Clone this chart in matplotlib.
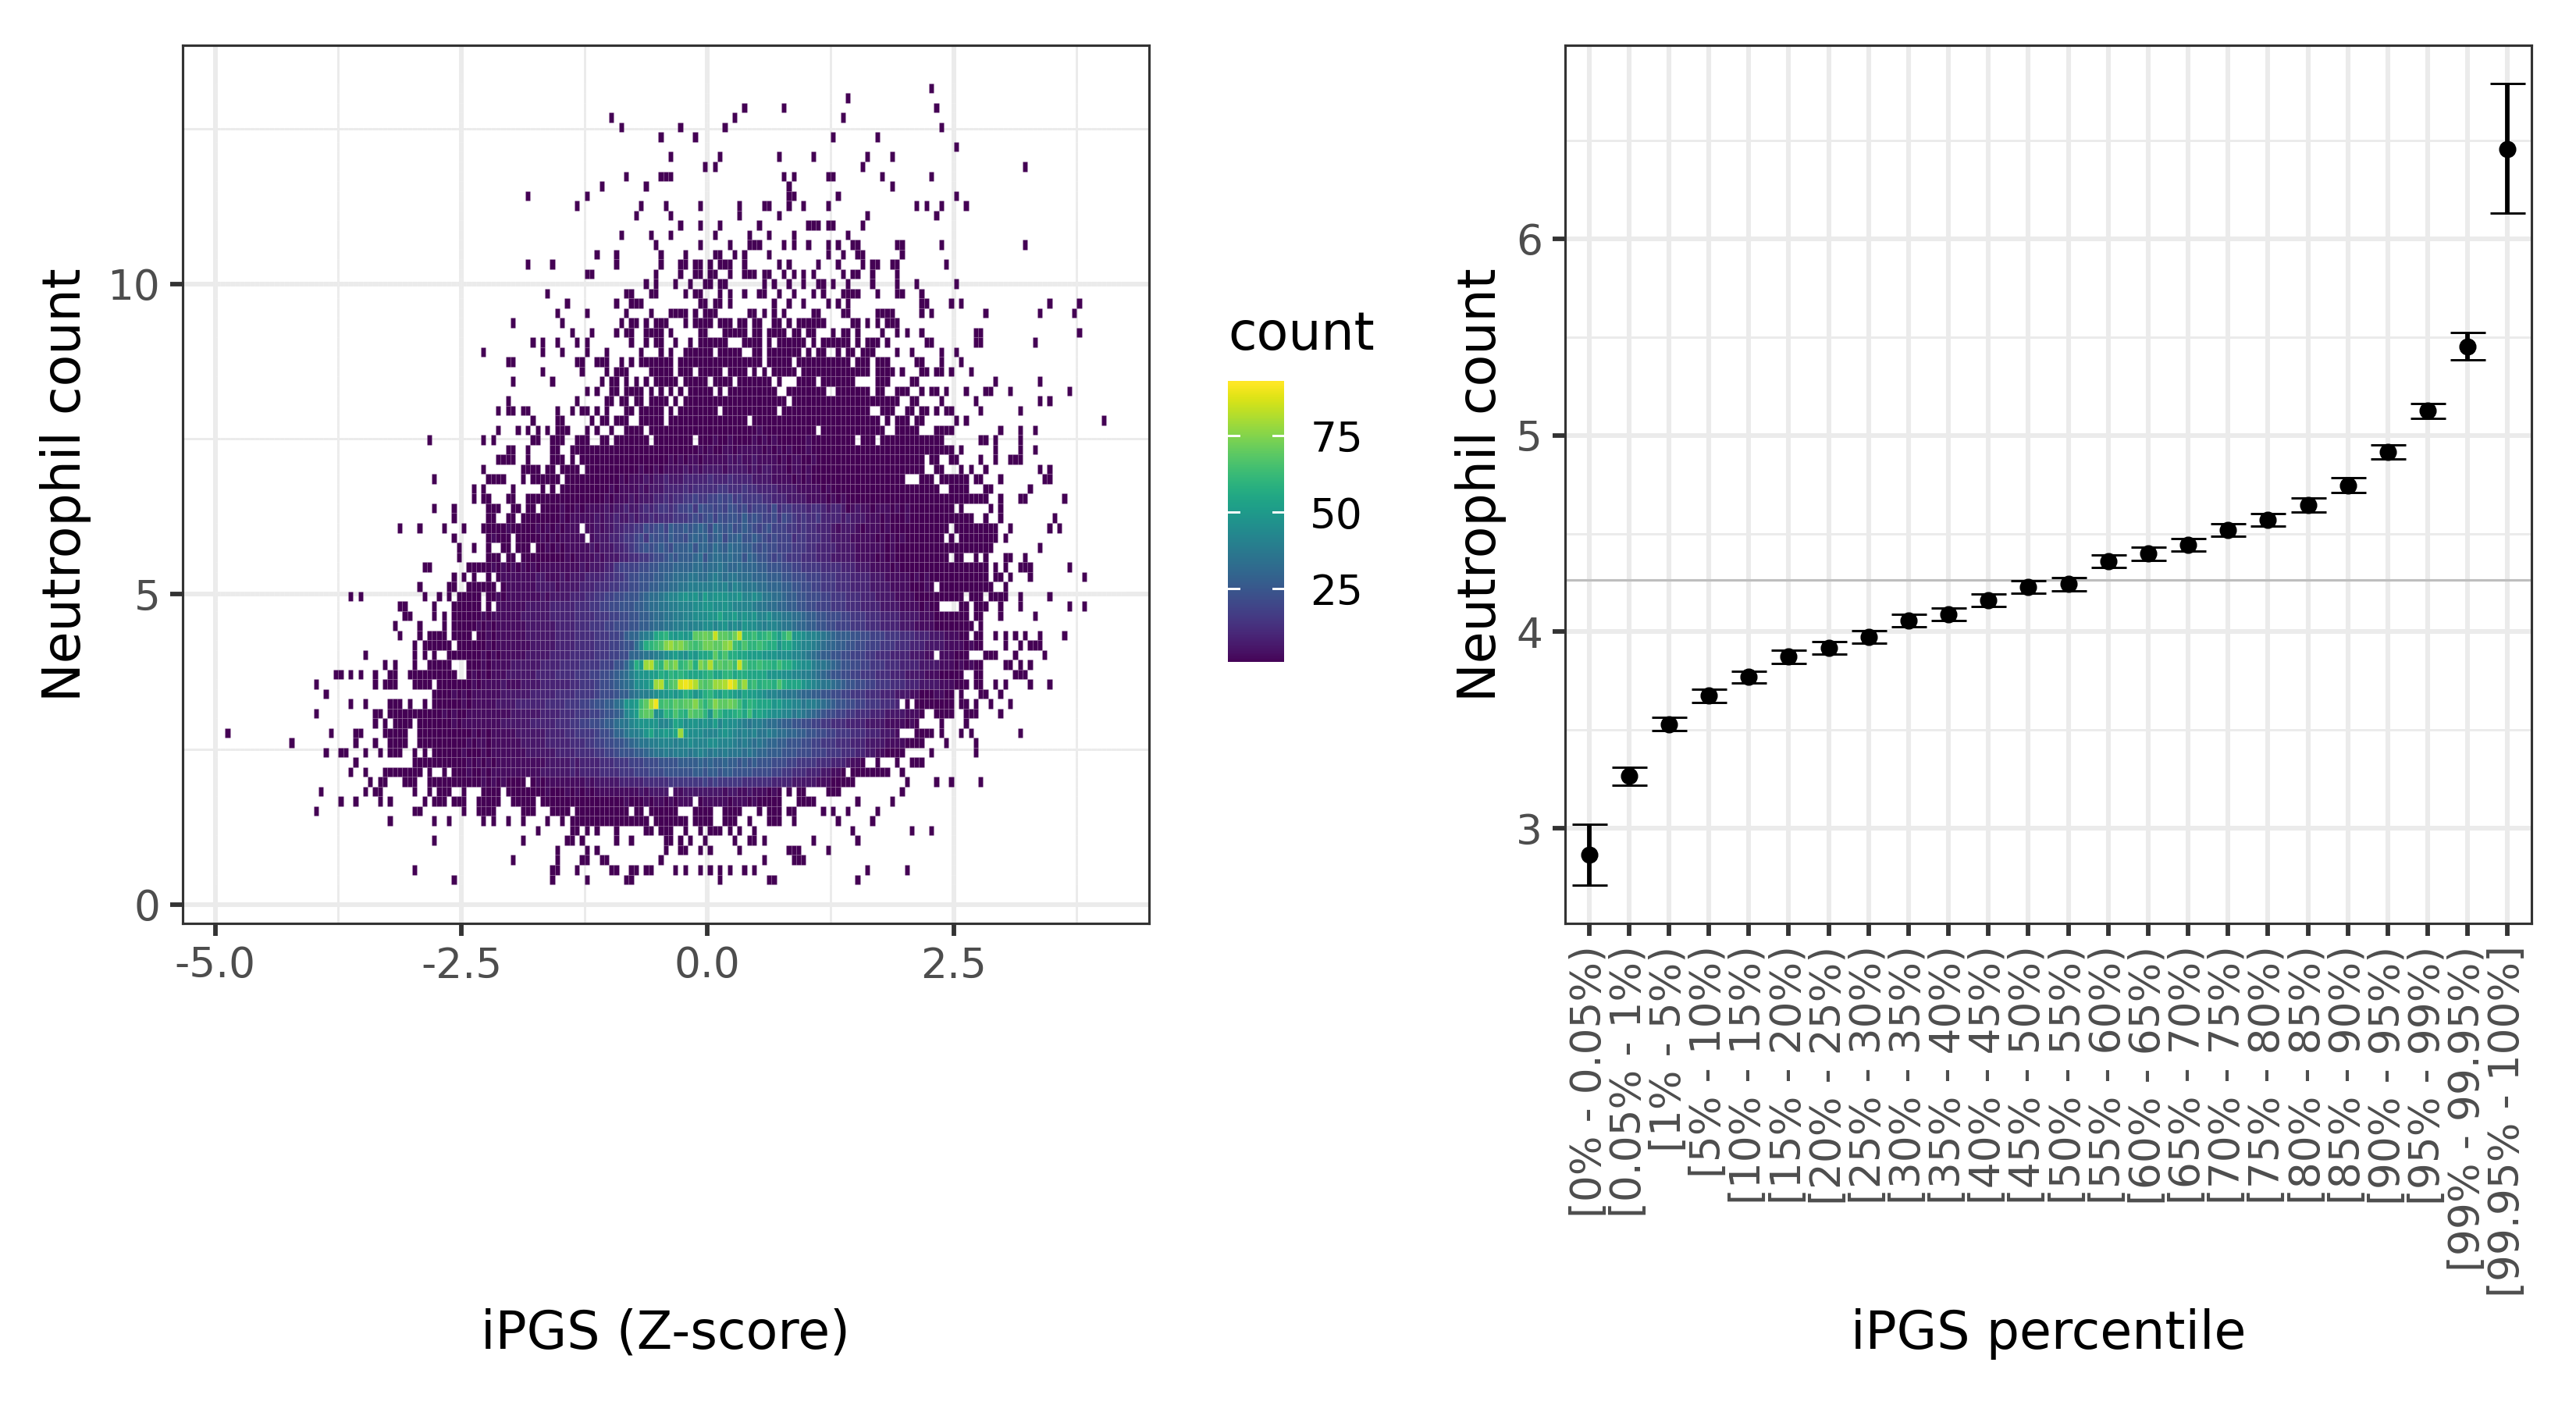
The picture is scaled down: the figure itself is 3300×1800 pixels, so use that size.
import matplotlib
matplotlib.use("Agg")
import matplotlib.pyplot as plt
import numpy as np

plt.rcParams["font.family"] = "DejaVu Sans"
plt.rcParams["axes.unicode_minus"] = False

# right panel: mean neutrophil count per iPGS percentile bin
PERCENTILE_BINS = [
    "[0% - 0.05%)", "[0.05% - 1%)", "[1% - 5%)", "[5% - 10%)", "[10% - 15%)",
    "[15% - 20%)", "[20% - 25%)", "[25% - 30%)", "[30% - 35%)", "[35% - 40%)",
    "[40% - 45%)", "[45% - 50%)", "[50% - 55%)", "[55% - 60%)", "[60% - 65%)",
    "[65% - 70%)", "[70% - 75%)", "[75% - 80%)", "[80% - 85%)", "[85% - 90%)",
    "[90% - 95%)", "[95% - 99%)", "[99% - 99.95%)", "[99.95% - 100%]",
]
MEANS = [2.866, 3.265, 3.53, 3.675, 3.77, 3.873, 3.917, 3.973, 4.059, 4.09, 4.16, 4.227,
         4.243, 4.36, 4.397, 4.444, 4.517, 4.57, 4.645, 4.745, 4.917, 5.125, 5.45, 6.457]
CI_LOW = [2.71, 3.22, 3.496, 3.64, 3.74, 3.84, 3.885, 3.94, 4.027, 4.058, 4.128, 4.195,
          4.21, 4.328, 4.365, 4.412, 4.485, 4.538, 4.61, 4.707, 4.88, 5.088, 5.383, 6.132]
CI_HIGH = [3.022, 3.31, 3.565, 3.708, 3.80, 3.905, 3.95, 4.005, 4.09, 4.122, 4.192, 4.26,
           4.275, 4.392, 4.43, 4.476, 4.55, 4.602, 4.68, 4.783, 4.953, 5.162, 5.524, 6.79]
POPULATION_MEAN = 4.263

# left panel: 2d histogram cells, rows counted from the top.
# lone cells (count about 1) as column numbers per row
HEAT_FRINGE = {
    0: [45], 1: [28], 2: [7, 15, 46], 3: [-20, 5, 27], 4: [-18, -6, 3, 47],
    5: [-10, -3, 25, 34], 6: [50], 7: [-8, 2, 14, 21, 32, 37], 8: [-1, 1, 31, 64],
    9: [-17, -10, -9, -8, 15, 17, 24, 25, 35, 45], 10: [-22, -13, 16, 37],
    11: [-37, -25, 16, 17, 26, 50],
    12: [-27, -14, -9, -2, 6, 11, 12, 16, 19, 24, 42, 44, 47, 52],
    13: [-15, -8, 6, 14, 32, 46], 14: [-6, -2, 2, 10, 20, 21, 22, 24, 25, 31],
    15: [-18, -12, -8, 1, 8, 12, 17, 28],
    16: [-11, -2, 4, 8, 9, 10, 15, 17, 20, 24, 26, 29, 30, 38, 39, 47, 64],
    17: [-23, -19, -10, -5, 1, 2, 5, 7, 12, 24, 27, 30, 31, 39],
    18: [-37, -32, -19, -10, -6, -5, -3, -2, 0, 2, 3, 4, 7, 14, 16, 22, 26, 31, 33, 34, 37, 38, 48],
    19: [-25, -24, -11, -6, -3, -2, 0, 1, 4, 7, 8, 9, 11, 12, 15, 17, 19, 21, 27, 29, 30, 33, 38],
    20: [-13, -11, -7, -4, -1, 0, 2, 3, 11, 13, 16, 19, 22, 23, 25, 28, 33, 38, 42, 50],
    21: [-33, -17, -16, -12, -11, -5, -3, -2, 2, 4, 7, 10, 11, 14, 17, 21, 23, 27, 28, 29, 30, 34, 38, 39, 43],
    22: [-29, -19, -16, -15, -14, -2, -1, 1, 2, 4, 13, 16, 19, 24, 26, 28, 43, 44, 49, 51, 69, 75],
    23: [-31, -25, -17, -12, -8, -7, -6, -5, -3, -1, 0, 1, 8, 9, 11, 13, 15, 21, 22, 27, 28, 34, 35, 36, 37, 43, 45, 56, 67, 74],
    24: [-40, -30, -18, -16, -15, -13, -11, -10, -9, -5, -3, -2, -1, 0, 2, 3, 4, 6, 7, 9, 10, 13, 14, 16, 18, 19, 20, 21, 22, 23, 29, 30, 32, 34, 36, 37, 38],
    25: [-28, -24, -19, -17, -16, -13, -12, -11, -10, -8, -2, -1, 3, 4, 5, 6, 7, 9, 10, 12, 13, 14, 15, 17, 18, 20, 21, 25, 27, 28, 30, 35, 38, 40, 43, 54, 55, 75],
    26: [-36, -34, -31, -27, -25, -16, -13, -11, -10, -7, -4, -2, -1, 0, 1, 2, 3, 7, 8, 9, 10, 12, 14, 15, 16, 17, 18, 19, 21, 23, 24, 25, 26, 27, 28, 30, 32, 33, 34, 36, 44, 45, 54, 55, 66],
    27: [-46, -34, -30, -25, -21, -14, -10, -8, -5, -4, -3, -2, -1, 0, 2, 3, 4, 5, 6, 9, 10, 12, 13, 14, 15, 16, 17, 18, 20, 22, 23, 26, 28, 29, 31, 32, 33, 38, 41, 47, 50],
    28: [-41, -40, -27, -26, -23, -22, -21, -18, -16, 42, 43, 47, 51],
    29: [-34, -26, -21, -19, -18, -17, 39, 43, 44, 46, 47, 49, 53],
    30: [-40, -32, -22, -20, -19, -17, -15, 41, 42, 58, 67],
    31: [-25, -23, -20, -19, -17, -16, -15, 38, 39, 40, 43, 45, 46, 48, 52, 56, 57, 61, 73],
    32: [-41, -27, -21, -20, -18, -17, -15, 41, 42, 47, 54, 67, 69],
    33: [-43, -41, -40, -38, -37, -31, -28, -26, -25, -23, -21, -17, -16, 40, 41, 43, 44, 46, 48, 49, 55, 63],
    34: [-36, -31, -30, -24, -22, -21, -19, -18, -17, 36, 38, 39, 40, 42, 43, 50, 52, 80],
    35: [-43, -39, -37, -35, -33, -31, -30, -29, -25, -23, -20, -17, -16, -15, 38, 39, 40, 41, 42, 46, 47, 48, 49, 59, 63, 66],
    36: [-57, -46, -44, -36, -35, -32, -31, -30, -27, -26, -25, -22, -21, -19, -18, -17, -16, -15, 55, 56, 58, 63],
    37: [-41, -40, -37, -32, -31, -28, -27, -26, -25, -24, -23, 45, 46, 47, 48, 49, 51, 58, 63, 66],
    38: [-43, -42, -41, -40, -37, -32, -31, -30, -28, -26, -25, -24, 42, 43, 45, 46, 49, 50, 55, 58, 61, 62, 63],
    39: [-46, -38, -37, -36, -35, -33, -32, -30, -29, -28, -27, -25, -24, -23, 46, 47, 51, 53, 56, 67, 69],
    40: [-56, -45, -44, -43, -42, -38, -36, -35, 43, 44, 45, 47, 48, 49, 50, 51, 52, 54, 55, 59, 68, 69],
    41: [-48, -46, -40, -34, -32, 49, 50, 51, 52, 56, 57, 65],
    42: [-48, -46, -45, -41, -40, -37, -36, -35, -34, -33, 54, 55, 56, 59, 63, 64, 72],
    43: [-56, -52, -45, -44, -43, -40, -39, -37, -36, 47, 48, 49, 51, 57, 59],
    44: [-52, -45, -44, -41, -40, -38, -37, -36, -35, -34, -33, -32, -31, 56, 59, 70],
    45: [-63, -59, -54, -50, 61, 69, 71],
    46: [-52, 60],
    47: [-51, -48, -45, -42, -41, -39, -38, -37, 67],
    48: [-51, -45, -44, -43, -41, -40, -38, -37, -36, -35, -34, -33, -32, -31, 50, 51, 54, 56, 60, 61, 64],
    49: [-58, -57, 58, 60, 63, 64, 65, 73],
    50: [-52, -50, -48, -45, 58, 59, 61, 65, 76],
    51: [-59, -53, -52, -49, -48, -47, -46, -45, -44, -42, 60],
    52: [-73, -71, -58, -55, -53, -51, -50, -49, -48, -47, 57, 58, 59, 60, 63, 69],
    53: [-63, -62, -56, -52, -51, -50, -49, -48, -47, -45, 51, 52, 54, 55, 56, 59, 63, 73, 76],
    54: [-62, -61, -56, -54, 54, 55, 59, 66],
    55: [-64, -59, -54, 55],
    56: [-63, -59, -57, -56, -55, -54, -52, -51, -50, -49, 54, 55, 58, 60, 62, 64, 67, 72],
    57: [-60, -58, -57, -56, -55, -54, -53, -51, -50, -49, -48, 60, 63, 65, 66, 67],
    58: [-70, -60, -58, -56, -53, -52, -51, 56, 57, 58, 62, 68],
    59: [-66, -64, -60, -57, -56, -55, -54, -53, 60, 61, 63, 65],
    60: [-76, -75, -73, -71, -68, -65, -64, -61, -60, -59, -58, -57, -56, -55, -54, -53, -52, 54, 55, 62, 63, 64],
    61: [-80, -68, -66, -65, -64, -60, -59, -58, -57, 54, 55, 58, 60, 65, 69],
    62: [-78, 51, 55, 56, 59],
    63: [-73, -70, -65, -64, -63, -61, -58, 40, 42, 43, 44, 45, 46, 47, 48, 49, 51, 52, 54, 57, 61],
    64: [-80, -68, -67, -65, -64, -63, -62, 46, 47, 48, 49, 52, 53, 54, 59],
    65: [-68, -66, -64, -63, -62, -61, 47, 52],
    66: [-98, -77, -72, -71, -66, -65, -64, -63, -62, -59, -58, -57, -56, -55, -54, 42, 43, 44, 45, 47, 51, 53, 63],
    67: [-85, -72, -68, -65, -64, -63, -62, -59, -58, -57, 48, 54],
    68: [-78, -75, -74, -70, -67, -65, -64, -63, -60, -58, -56, 37, 38, 39, 45, 54],
    69: [-72, -60, -59, -58, -57, -56, -55, 34, 38, 41, 42, 43],
    70: [-73, -70, -66, -65, -64, -63, -62, -61, -60, -59, -57, -54, 29, 30, 31, 32, 33, 34, 35, 36, 39],
    71: [-69, -67, -66, -62, -61, -60, -57, -56, -55, -54, -53, -52, 25, 26, 27, 28, 29, 40, 46, 49, 55],
    72: [-79, -70, -68, -67, -60, -57, -55, -54, -53, -50, -46, -45, -44, -43, 16, 18, 19, 24, 25, 26, 39],
    73: [-75, -72, -67, -65, -58, -56, -55, -54, -52, -51, -50, -47, -46, -45, -44, -43, -40, -39, -38, -37, -36, 18, 19, 20, 21, 30, 37],
    74: [-80, -60, -59, -50, -47, -46, -45, -44, -38, -37, -36, -32, -31, -30, -29, -27, -26, -25, -24, -23, -22, -21, -20, -19, -18, -17, -15, -14, -12, -11, -10, -9, -8, -7, -3, -2, -1, 0, 3, 4, 5, 6, 10, 12, 13, 14, 16, 17, 23, 25, 28, 34],
    75: [-65, -56, -53, -46, -44, -41, -38, -33, -30, -28, -27, -26, -25, -24, -23, -22, -21, -20, -19, -18, -17, -16, -15, -14, -13, -11, -10, -9, -8, -7, -6, -5, -3, -2, -1, 0, 3, 4, 5, 8, 12, 13, 14, 17, 26, 33],
    76: [-35, -28, -27, -25, -23, -19, -13, -12, -10, -9, -8, -5, -2, 0, 1, 2, 4, 6, 9, 29, 41, 45],
    77: [-56, -38, -29, -28, -26, -19, -16, -9, -8, -6, -4, -1, 5, 8, 9, 11, 21, 30],
    78: [-31, -25, -23, -9, -6, -5, -2, 0, 6, 16, 17, 18, 24],
    79: [-40, -31, -26, -25, -22, -21, -10, 11, 17, 18, 19],
    80: [-60, -32, -31, -27, -20, -19, -16, -15, -13, -12, -7, -5, -2, 0, 2, 4, 7, 9, 32, 40],
    81: [-52, -32, -25, -17, -16, 2, 12, 13, 30],
}

# dense part: first column + one character per cell, "." = empty, count = base36 value * 3 + 1
HEAT_CORE = {
    28: (-14, "0000000.00 0000000000 00000.0000 0.00000000 000.000.00 0"),
    29: (-14, "..00000.00 0.00000.00 00.0.0.000 00.0000000 0000000.00 00"),
    30: (-14, ".0.00000.0 0000.0000. 0000000.0. ..0000.000 0000....00 0"),
    31: (-14, "0.0.0.0.0. 00000.0.00 00000000.. 00000000.. 0000000.00"),
    32: (-14, "0.0000.0.0 0000000000 0000000000 .000000000 0000000000 000"),
    33: (-14, "00000.0.00 000000.000 00000000.0 0000000000 0000000..0 00"),
    34: (-14, "00000.0000 0000000000 00.0000000 0000000000 000000000"),
    35: (-14, "0.00000000 0000000000 0000100000 000000.000 0000000000"),
    36: (-14, "00.0000000 0.00010010 0001010100 0000100000 0000.000.0 000000000000"),
    37: (-22, "0000000000 0000000000 1010011011 1110101010 0010000000 0000000000 00000000"),
    38: (-23, "0000000000 0000010101 1011111212 1121111010 1100100000 0000000000 00000"),
    39: (-22, "0000000010 0101111212 1222212222 1212211101 1010000000 0000000000 000000"),
    40: (-34, "0000.00000 0000001011 1212232223 3333433343 3332222111 1010100000 0000000000 0000"),
    41: (-31, ".000000000 0101111212 2233334344 4445544454 4333322221 1111010000 0000000000 00000000."),
    42: (-32, "0000000000 0101112122 2334344556 5566767565 5554433322 2211110101 0000000000 0000000000 000000"),
    43: (-34, "0000100101 1112122322 3434554566 7587767687 6756665745 5444344323 3201211011 1010100000 0"),
    44: (-30, "1011111212 2322323343 4445556767 8687887978 7667576545 4453333232 2211101000 1000000000 0000"),
    45: (-46, "0000010000 0101010111 .112122334 4557678698 8989a97a98 9789876786 6655454433 3212221011 1010000000 00000.0000 00000"),
    46: (-45, "01000.0000 0101011111 .122233455 6758787988 79a9a89a79 9a88987676 6645544433 2222111110 1010100000 000.0.0000 0000"),
    47: (-35, "0010101111 1212223345 6787898799 9a8aa9ba9b aa99878776 6655544333 3222211111 1010000000 0000000000 000"),
    48: (-30, "0101111212 2233445567 7898999ab8 abbabaa8a9 8876765554 4433322222 1111010100 000000000"),
    49: (-49, "0000010101 0101011111 1112122233 5666677889 99aaaabbab bcbaabaaa9 9888776655 5544443332 2211110100 0000000000 000000"),
    50: (-43, "0111111122 1112122233 3344556778 8899aabbbc cbbcdcbccb bbaaa99988 7776665554 4433332221 1111010100 0000000000"),
    51: (-41, "1111112222 1222233344 4556677889 9aabbccddd ddedecedcc cbbaaa9988 7766555444 3333222211 1100010.00 000000000."),
    52: (-45, "0010111111 1212222333 4455667788 89abbcdeef gfgehfgggf fgeefeccbb a998877766 5554443332 2221111000 0000000.00 0"),
    53: (-43, "1111112222 2333334445 5667788899 abbccddeee ffggffgfee eedccbbaa9 9887766655 5444333322 2211110100"),
    54: (-52, "0000001011 1111222222 3333344445 5566778899 abbccddeef ffggigghfg fgeefddccb ba99887776 6555444333 3222211100 00000"),
    55: (-52, "0000010101 1111122222 2333344455 5667778899 abbccddede effefgefeg ffedeedccb aa99887766 6555444333 3222111100 000000"),
    56: (-47, "0010111111 2222223333 4444555667 9aacdeijkh ghghnnonsn nmoskkljkl jhkmggfeed cba9998877 6665554443 3322211100"),
    57: (-47, "0010111111 1222223333 4444555667 88bejklmpq opnmlmoonn pqlkmkklkj jgiigfeedc baa9988776 6655544433 3222211110 100"),
    58: (-50, "0000101011 1112222233 3344444555 6677aabccd efghgfhgii jnkmjjiihh hgggfffeed cba9988776 6655444333 322211.111 000."),
    59: (-49, "0001011112 2222233334 4445555666 88adjhqrlk pnpklnjpnr mnmnlsmkkl kkjljjhgff dccba98877 6655544433 3322221110 10100"),
    60: (-49, "0101011122 2222333344 4455566778 9abdfgghhj ikjkjiiijk iikkijjiii igggffeedd cba9887766 5554443332 2221110000 0"),
    61: (-55, "0000000101 1112111222 2333333445 5567789abc ffgiqrkmnt utrnmnqqru snqkljkkjm jiiigfedcc ba98877665 5544433322 22111000"),
    62: (-56, "0000101011 1111222222 3333344445 5556777899 bcddefgghg hjighjkihj ihgihhgfee dcccbaa998 8776655544 4333222110 001100"),
    63: (-56, "0000001011 1112222333 3334444555 6678899bcg ghlnrulmln mnnpmkmpnn onlikjiiig hffeecddcb a988776655 54443"),
    64: (-61, "0000000101 0011111111 1222222333 3444555667 889aefhmnn fgkjmkjnmm kgmkiijkil hihgffeecd cba9877665 5444333222 21110"),
    65: (-59, "0000000101 1111111222 2223333344 4556677899 bccefgggge efihfggfgf hegffedcdd cbba998877 6655444333 3222211110 10"),
    66: (-53, "0000010101 1111222222 3333445555 6778aacdde gifghgiqhf ffeeefgfed edeccdcbba a998877665 5544433322 21"),
    67: (-56, "0000000101 1011111122 2223333344 4556677889 abccddeeed eefeeeffee edcdcbcbaa 9988877665 5544433322 2211110000"),
    68: (-55, "0000010001 0111111122 2222333344 4455667888 99abccdcdd dcdedcdcdc ccbcbaa999 8887776665 554443322110"),
    69: (-54, "0000010101 0111111111 1222223233 3344455566 6777888899 99a9a99a99 8989888777 6655554443 332110"),
    70: (-52, "0001001011 1111111122 2222323333 4444555666 7778888889 9899899888 8777766554 4433322110"),
    71: (-51, "0000010101 0000.01011 1111112122 2223333344 4445555555 6565555544 4444333322 222111"),
    72: (-41, "0000000010 0010101011 1111111212 222.112222 2222122112 111010"),
    73: (-34, "0000000000 0000000100 0101101011 1.01111101 110100000"),
}

N_ROWS = 82
FIRST_COL = -100
N_COLS = 185
X_BIN = 0.05
Y_BIN = 0.1574
TOP_ROW_Y = 13.15

COUNT_TICKS = [25, 50, 75]
GRID = "#EBEBEB"
DARK = "#333333"
TICK_TEXT = "#4D4D4D"


def heat_matrix():
    counts = np.full((N_ROWS, N_COLS), np.nan)
    for row, cols in HEAT_FRINGE.items():
        for col in cols:
            counts[row, col - FIRST_COL] = 1
    for row, (start, cells) in HEAT_CORE.items():
        for i, c in enumerate(cells.replace(" ", "")):
            if c != ".":
                counts[row, start + i - FIRST_COL] = int(c, 36) * 3 + 1
    return np.ma.masked_invalid(counts)


def style_panel(ax):
    ax.set_axisbelow(True)
    ax.grid(which="major", color=GRID, linewidth=1.45)
    ax.grid(which="minor", color=GRID, linewidth=0.72)
    ax.tick_params(which="major", length=3.9, width=1.4, color=DARK, labelcolor=TICK_TEXT,
                   labelsize=12.8, pad=3)
    ax.tick_params(which="minor", length=0)
    for spine in ax.spines.values():
        spine.set_color(DARK)
        spine.set_linewidth(0.75)


fig = plt.figure(figsize=(11, 6), dpi=300)

# heatmap, the thin light edges give the seams between cells
ax_heat = fig.add_axes([234 / 3300, 1 - 1182.7 / 1800, 1238 / 3300, 1125.2 / 1800])
x_edges = (FIRST_COL + np.arange(N_COLS + 1)) * X_BIN
y_edges = TOP_ROW_Y + Y_BIN / 2 - np.arange(N_ROWS + 1) * Y_BIN
mesh = ax_heat.pcolormesh(x_edges, y_edges, heat_matrix(), cmap="viridis", vmin=1, vmax=93,
                          edgecolors=(1, 1, 1, 0.08), linewidth=0.2, antialiased=True, zorder=2)
ax_heat.set_xlim(-5.33, 4.485)
ax_heat.set_ylim(-0.303, 13.85)
ax_heat.set_xticks([-5, -2.5, 0, 2.5])
ax_heat.set_xticklabels(["-5.0", "-2.5", "0.0", "2.5"])
ax_heat.set_xticks([-3.75, -1.25, 1.25, 3.75], minor=True)
ax_heat.set_yticks([0, 5, 10])
ax_heat.set_yticks([2.5, 7.5, 12.5], minor=True)
style_panel(ax_heat)

# colour legend
cax = fig.add_axes([1573 / 3300, 1 - 848 / 1800, 72 / 3300, 360 / 1800])
cb = fig.colorbar(mesh, cax=cax, ticks=COUNT_TICKS)
cb.outline.set_visible(False)
cb.solids.set_edgecolor("face")
cax.tick_params(length=0, labelsize=12.8, pad=8, labelcolor="black")
for value in COUNT_TICKS:
    cax.plot([0, 0.2], [value, value], color="white", lw=0.7, transform=cax.get_yaxis_transform())
    cax.plot([0.8, 1], [value, value], color="white", lw=0.7, transform=cax.get_yaxis_transform())
fig.text(1573 / 3300, 1 - 429 / 1800, "count", fontsize=16, ha="left", va="center")

# percentile means
ax_mean = fig.add_axes([2005 / 3300, 1 - 1182.7 / 1800, 1238 / 3300, 1125.2 / 1800])
positions = np.arange(len(PERCENTILE_BINS))
means = np.array(MEANS)
ax_mean.axhline(POPULATION_MEAN, color="#BEBEBE", linewidth=0.75, zorder=2)
ax_mean.errorbar(positions, means, yerr=[means - np.array(CI_LOW), np.array(CI_HIGH) - means],
                 fmt="o", color="black", markersize=4.6, markeredgewidth=0.7,
                 elinewidth=1.4, capsize=5.4, capthick=1.6, zorder=3)
ax_mean.set_xlim(-0.6, 23.6)
ax_mean.set_ylim(2.517, 6.987)
ax_mean.set_xticks(positions)
ax_mean.set_xticklabels(PERCENTILE_BINS, rotation=90, ha="center", va="top")
ax_mean.set_yticks([3, 4, 5, 6])
ax_mean.set_yticks([3.5, 4.5, 5.5, 6.5], minor=True)
style_panel(ax_mean)

fig.text(853 / 3300, 1 - 1709 / 1800, "iPGS (Z-score)", fontsize=16, ha="center", va="center")
fig.text(2624 / 3300, 1 - 1709 / 1800, "iPGS percentile", fontsize=16, ha="center", va="center")
fig.text(84 / 3300, 1 - 621 / 1800, "Neutrophil count", fontsize=16, rotation=90, ha="center", va="center")
fig.text(1897 / 3300, 1 - 621 / 1800, "Neutrophil count", fontsize=16, rotation=90, ha="center", va="center")

fig.savefig("out.png", dpi=300)
